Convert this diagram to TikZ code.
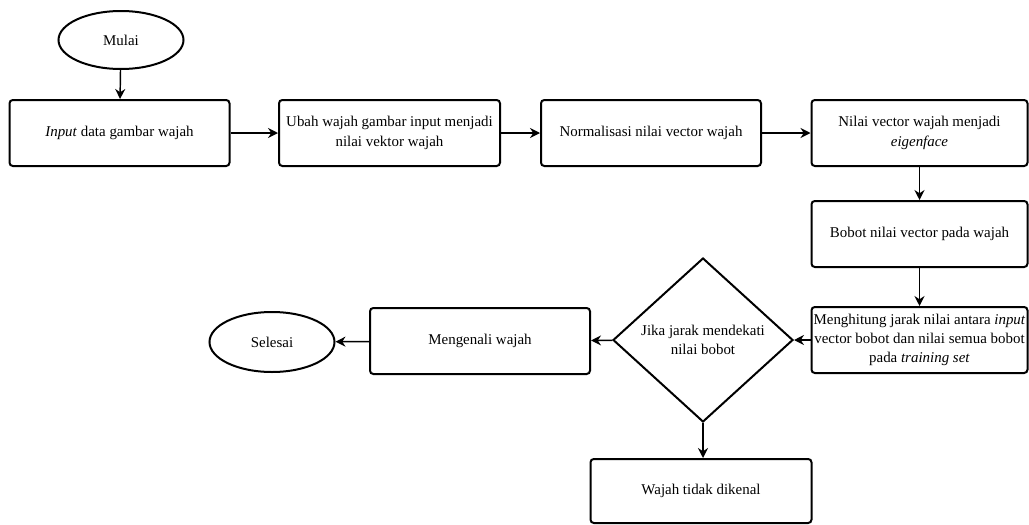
\documentclass[tikz,border=0pt]{standalone}
\usepackage{fontspec}
\setmainfont{Liberation Serif}
\usetikzlibrary{shapes.geometric,arrows.meta}
\begin{document}
\begin{tikzpicture}[x=0.75pt,y=-0.75pt,
  every node/.style={font=\fontsize{11.2}{14.5}\selectfont, align=center, inner sep=0pt},
  procbox/.style={draw, line width=1.5pt, rounded corners=2.5pt, minimum height=49.5pt},
  termbox/.style={draw, ellipse, line width=1.5pt, minimum width=93.75pt, minimum height=43.5pt},
  decbox/.style={draw, diamond, line width=1.5pt, minimum width=135pt, minimum height=123pt},
  conn/.style={line width=1.1pt, -{Stealth[length=7.5pt,width=7.5pt]}}
]
\useasboundingbox (0,0) rectangle (1029,525);
\node[termbox] (mulai) at (121,40) {Mulai};
\node[procbox, minimum width=165pt] (input) at (119.5,133) {\textit{Input} data gambar wajah};
\node[procbox, minimum width=165.75pt] (ubah) at (389.5,133) {Ubah wajah gambar input menjadi\\nilai vektor wajah};
\node[procbox, minimum width=165pt] (norm) at (651,133) {Normalisasi nilai vector wajah};
\node[procbox, minimum width=162pt] (nilai) at (919.5,133) {Nilai vector wajah menjadi\\\textit{eigenface}};
\node[procbox, minimum width=162pt] (bobot) at (919.5,234) {Bobot nilai vector pada wajah};
\node[procbox, minimum width=162pt] (hitung) at (919.5,340) {Menghitung jarak nilai antara \textit{input}\\vector bobot dan nilai semua bobot\\pada \textit{training set}};
\node[decbox] (jika) at (703,340) {Jika jarak mendekati\\nilai bobot};
\node[procbox, minimum width=165pt] (kenal) at (480,341) {Mengenali wajah};
\node[termbox, minimum height=45pt] (selesai) at (272,342) {Selesai};
\node[procbox, minimum width=165.75pt, minimum height=48pt] (tidak) at (701,491) {Wajah tidak dikenal};

\draw[conn] (mulai) -- (input);
\draw[conn] (input) -- (ubah);
\draw[conn] (ubah) -- (norm);
\draw[conn] (norm) -- (nilai);
\draw[conn] (nilai) -- (bobot);
\draw[conn] (bobot) -- (hitung);
\draw[conn] (hitung) -- (jika);
\draw[conn] (jika) -- (kenal);
\draw[conn] (kenal) -- (selesai);
\draw[conn] (jika.south) -- (jika.south |- tidak.north);
\end{tikzpicture}
\end{document}
